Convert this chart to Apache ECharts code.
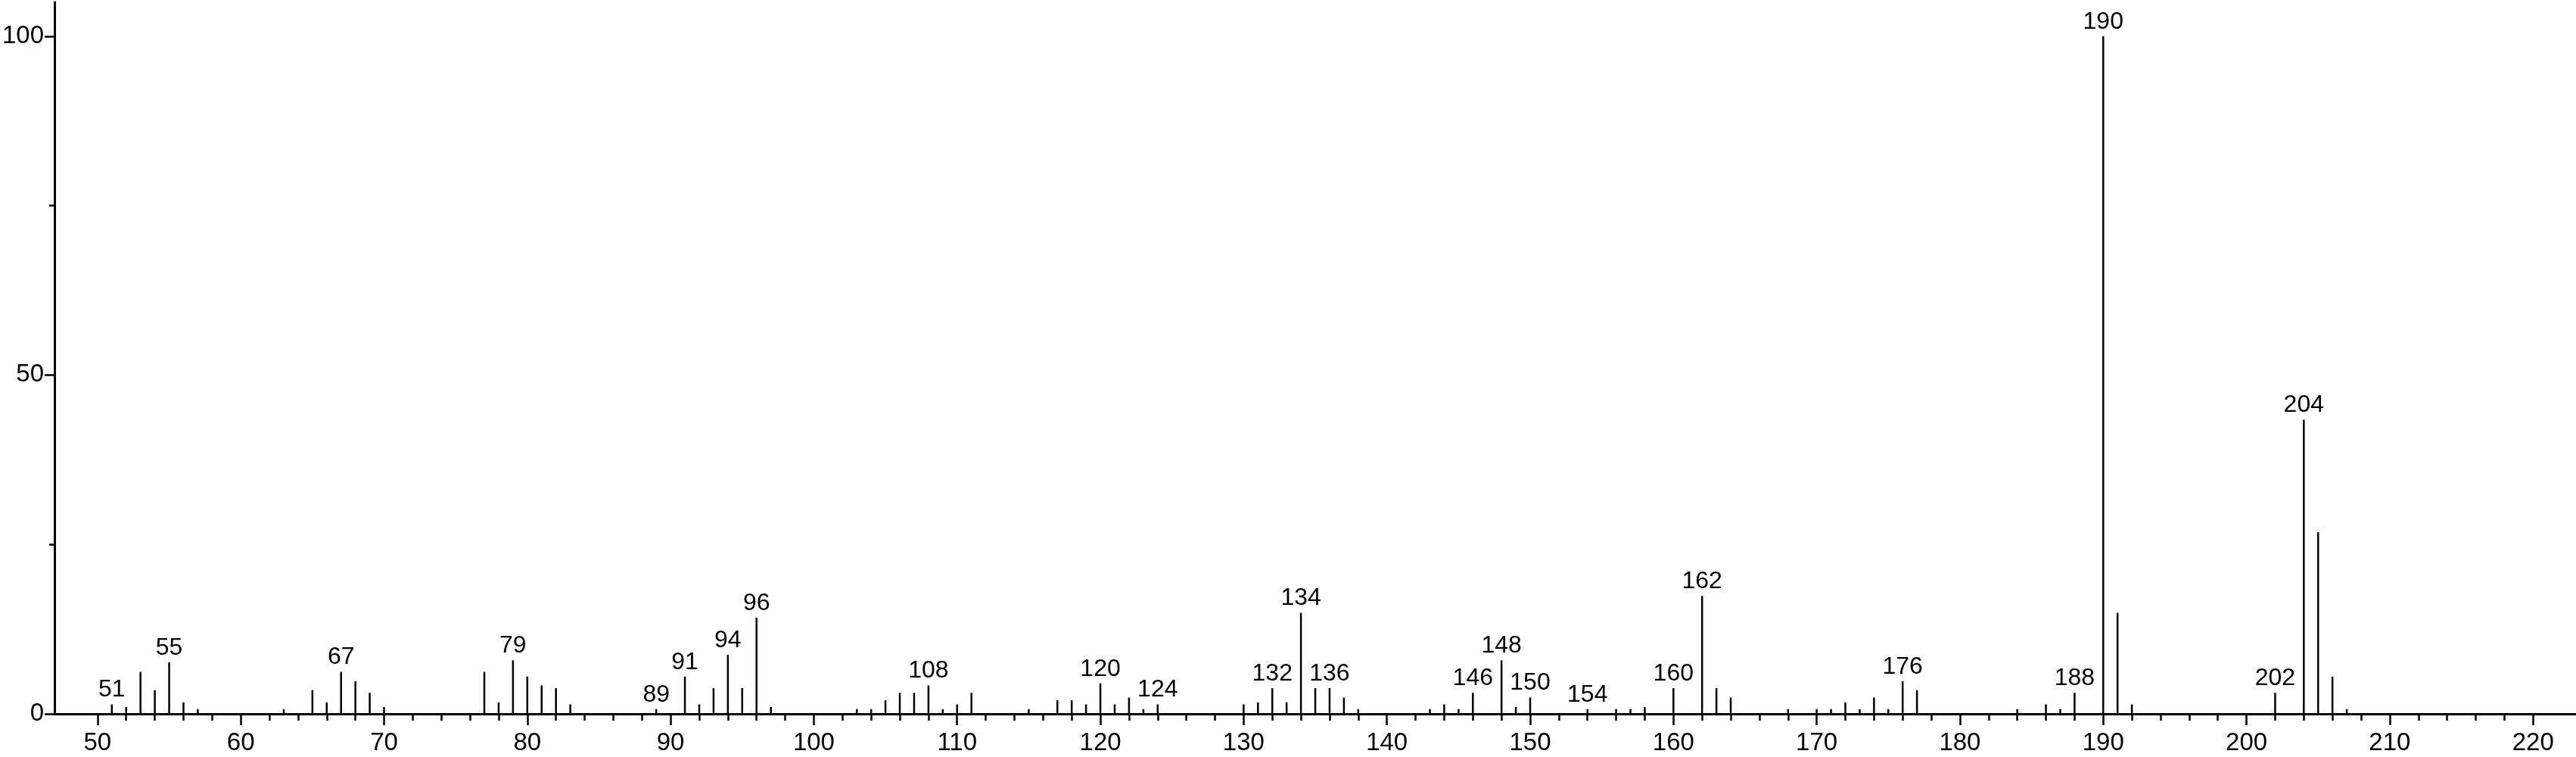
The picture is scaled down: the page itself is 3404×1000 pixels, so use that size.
<!DOCTYPE html>
<html>
<head>
<meta charset="utf-8">
<script src="https://cdn.jsdelivr.net/npm/echarts@6/dist/echarts.min.js"></script>
<style>
html,body{margin:0;padding:0;background:#fff;}
#chart{width:3404px;height:1000px;}
</style>
</head>
<body>
<div id="chart"></div>
<script>
// m/z values
const mz = [51,52,53,54,55,56,57,63,65,66,67,68,69,70,
  77,78,79,80,81,82,83,89,91,92,93,94,95,96,97,
  103,104,105,106,107,108,109,110,111,115,117,118,119,120,121,122,123,124,
  130,131,132,133,134,135,136,137,138,143,144,145,146,148,149,150,154,156,157,158,
  160,162,163,164,168,170,171,172,173,174,175,176,177,184,186,187,188,
  190,191,192,202,204,205,206,207];
// relative intensity (%)
const intensity = [1.4,1.0,6.2,3.5,7.6,1.7,0.7,0.7,3.5,1.7,6.2,4.8,3.1,1.0,
  6.2,1.7,7.9,5.5,4.2,3.8,1.4,0.7,5.5,1.4,3.8,8.7,3.8,14.2,1.0,
  0.7,0.7,2.0,3.1,3.1,4.2,0.7,1.4,3.1,0.7,2.0,2.0,1.4,4.5,1.4,2.4,0.7,1.4,
  1.4,1.7,3.8,1.7,14.9,3.8,3.8,2.4,0.7,0.7,1.4,0.7,3.1,7.9,1.0,2.4,0.7,0.7,0.7,1.0,
  3.8,17.4,3.8,2.4,0.7,0.7,0.7,1.7,0.7,2.4,0.7,4.8,3.5,0.7,1.4,0.7,3.1,
  100,14.9,1.4,3.1,43.4,26.8,5.5,0.7];
// peaks carrying an m/z label
const labeledPeaks = [51,55,67,79,89,91,94,96,108,120,124,132,134,136,146,148,150,154,160,162,176,188,190,202,204];
// axis ticks
const xMajorTicks = [50,60,70,80,90,100,110,120,130,140,150,160,170,180,190,200,210,220];
const xMinorTicks = [52,54,56,58,62,64,66,68,72,74,76,78,82,84,86,88,92,94,96,98,
  102,104,106,108,112,114,116,118,122,124,126,128,132,134,136,138,142,144,146,148,
  152,154,156,158,162,164,166,168,172,174,176,178,182,184,186,188,192,194,196,198,
  202,204,206,208,212,214,216,218];
const yMajorTicks = [0,50,100];
const yMinorTicks = [25,75];

const FONT = '"Liberation Sans", Arial, sans-serif';
const data = mz.map((m, i) => {
  const item = { value: [m, intensity[i]] };
  if (labeledPeaks.includes(m)) item.label = { show: true };
  return item;
});

const chart = echarts.init(document.getElementById('chart'), null, { renderer: 'canvas' });
chart.setOption({
  animation: false,
  backgroundColor: '#ffffff',
  grid: { left: 69, right: 0, top: 3, bottom: 57, containLabel: false },
  xAxis: [
    {
      type: 'value', min: 47, max: 223,
      axisLine: { show: true, onZero: false, lineStyle: { color: '#000', width: 3 } },
      axisTick: { show: true, customValues: xMajorTicks, length: 15, lineStyle: { color: '#000', width: 2.5 } },
      axisLabel: { show: true, customValues: xMajorTicks, margin: 22, fontSize: 33, color: '#000', fontFamily: FONT },
      splitLine: { show: false }
    },
    {
      type: 'value', min: 47, max: 223, position: 'bottom',
      axisLine: { show: false },
      axisTick: { show: true, customValues: xMinorTicks, length: 9, lineStyle: { color: '#000', width: 2.5 } },
      axisLabel: { show: false },
      splitLine: { show: false }
    }
  ],
  yAxis: [
    {
      type: 'value', min: 0, max: 105,
      axisLine: { show: true, onZero: false, lineStyle: { color: '#000', width: 3 } },
      axisTick: { show: true, customValues: yMajorTicks, length: 13, lineStyle: { color: '#000', width: 2.5 } },
      axisLabel: { show: true, customValues: yMajorTicks, margin: 14, fontSize: 33, color: '#000', fontFamily: FONT },
      splitLine: { show: false }
    },
    {
      type: 'value', min: 0, max: 105, position: 'left',
      axisLine: { show: false },
      axisTick: { show: true, customValues: yMinorTicks, length: 7, lineStyle: { color: '#000', width: 2.5 } },
      axisLabel: { show: false },
      splitLine: { show: false }
    }
  ],
  series: [{
    type: 'bar',
    xAxisIndex: 0, yAxisIndex: 0,
    barWidth: 2.5,
    itemStyle: { color: '#000' },
    label: {
      show: false, position: 'top', distance: 3,
      fontSize: 32, color: '#000', fontFamily: FONT,
      formatter: p => String(p.value[0])
    },
    data: data
  }]
});
</script>
</body>
</html>
